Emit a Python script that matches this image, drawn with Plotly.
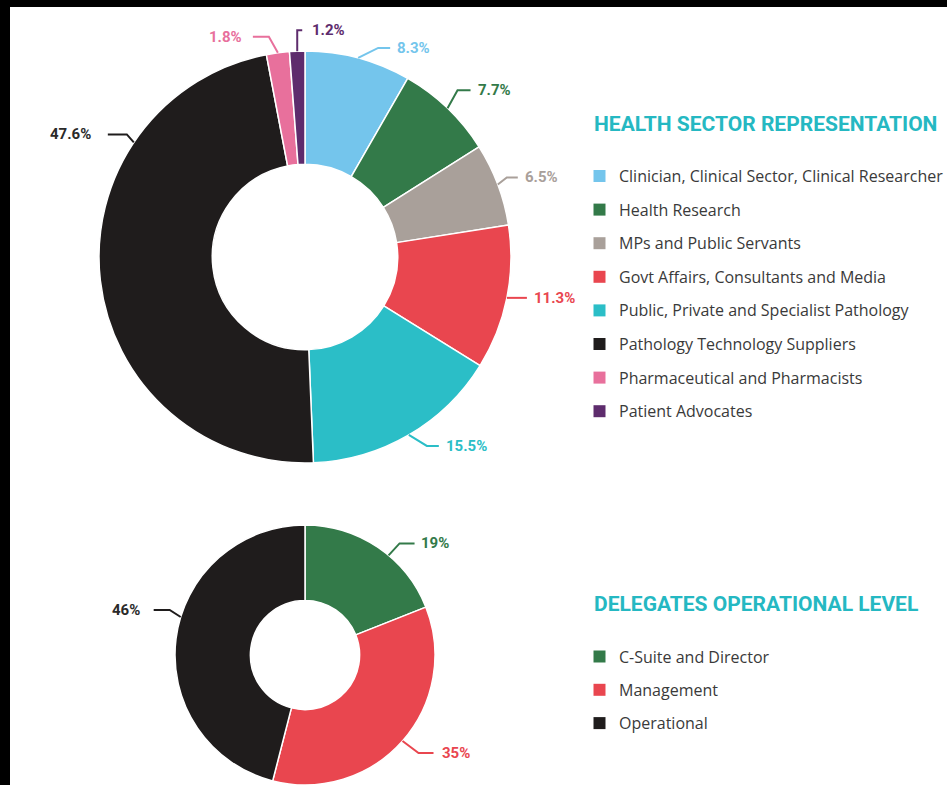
import math
import plotly.graph_objects as go

W, H = 947, 785

# ---------------- data ----------------
sector_labels = [
    "Clinician, Clinical Sector, Clinical Researcher",
    "Health Research",
    "MPs and Public Servants",
    "Govt Affairs, Consultants and Media",
    "Public, Private and Specialist Pathology",
    "Pathology Technology Suppliers",
    "Pharmaceutical and Pharmacists",
    "Patient Advocates",
]
sector_values = [8.3, 7.7, 6.5, 11.3, 15.5, 47.6, 1.8, 1.2]
sector_colors = ["#74C5EC", "#337A49", "#A9A09A", "#E9464F",
                 "#2BBEC7", "#1F1C1C", "#E8709C", "#5E2C6D"]

level_labels = ["C-Suite and Director", "Management", "Operational"]
level_values = [19, 35, 46]
level_colors = ["#337A49", "#E9464F", "#1F1C1C"]

title1 = "HEALTH SECTOR REPRESENTATION"
title2 = "DELEGATES OPERATIONAL LEVEL"

# ---------------- layout helpers ----------------
LABEL_FONT = "Roboto, Liberation Sans, sans-serif"
TEXT_FONT = "Open Sans, sans-serif"
TITLE_COLOR = "#25B8C2"


def X(px):
    return px / W


def Y(py):
    return 1 - py / H


def fmt(v):
    return f"{v:g}%"


# donut geometry (pixels)
D1 = dict(cx=305, cy=257, r=206, hole=0.45)
D2 = dict(cx=305, cy=655, r=130, hole=0.42)

# leader layout: (angle override deg or None, elbow dx, elbow dy, horizontal length, text gap)
lead1 = [
    (None, 20, -10, 12, 5),
    (None, 10, -18, 13, 5),
    (None, 9, -7, 11, 5),
    (None, 4, 0, 16, 5),
    (None, 18, 11, 12, 5),
    (303.8, -7, -8, -19, 15),
    (None, -9, -16, -16, 9),
    (None, 0, -21, 5, 8),
]
lead2 = [
    (40, 11, -12, 15, 4),
    (None, 16, 12, 15, 6),
    (287, -11, -7, -16, 12),
]

fig = go.Figure()
shapes = []
annotations = []

# white page with black border strips at top/left
shapes.append(dict(type="rect", xref="paper", yref="paper", x0=X(10), x1=1,
                   y0=0, y1=Y(7), fillcolor="white", line=dict(width=0),
                   layer="below"))


def add_donut(vals, labels, colors, geo, leads, name):
    cx, cy, r = geo["cx"], geo["cy"], geo["r"]
    fig.add_trace(go.Pie(
        values=vals, labels=labels, name=name,
        marker=dict(colors=colors, line=dict(color="white", width=1.5)),
        hole=geo["hole"], sort=False, direction="clockwise", rotation=0,
        textinfo="none", hoverinfo="label+percent", showlegend=False,
        domain=dict(x=[X(cx - r), X(cx + r)], y=[Y(cy + r), Y(cy - r)]),
    ))
    total = sum(vals)
    cum = 0
    for v, col, (ang, edx, edy, hl, gap) in zip(vals, colors, leads):
        mid = (cum + v / 2) / total * 360
        cum += v
        a = math.radians(ang if ang is not None else mid)
        ax = cx + r * math.sin(a)
        ay = cy - r * math.cos(a)
        ex, ey = ax + edx, ay + edy
        hx = ex + hl
        shapes.append(dict(
            type="path", xref="paper", yref="paper", layer="above",
            path=f"M {X(ax)} {Y(ay)} L {X(ex)} {Y(ey)} L {X(hx)} {Y(ey)}",
            line=dict(color=col, width=2)))
        right = hl > 0
        tcol = "#2a2a2a" if col == "#1F1C1C" else col
        annotations.append(dict(
            x=X(hx + (gap if right else -gap)), y=Y(ey), xref="paper", yref="paper",
            text=fmt(v), showarrow=False,
            xanchor="left" if right else "right", yanchor="middle",
            font=dict(family=LABEL_FONT, size=15, color=tcol, weight=700)))


add_donut(sector_values, sector_labels, sector_colors, D1, lead1, "Health sector")
add_donut(level_values, level_labels, level_colors, D2, lead2, "Operational level")


def add_legend(title, labels, colors, title_y, first_y, step):
    annotations.append(dict(
        x=X(592), y=Y(title_y), xref="paper", yref="paper", text=title,
        showarrow=False, xanchor="left", yanchor="middle",
        font=dict(family=LABEL_FONT, size=21, color=TITLE_COLOR, weight=700)))
    for i, (lab, col) in enumerate(zip(labels, colors)):
        yc = first_y + i * step
        shapes.append(dict(type="rect", xref="paper", yref="paper",
                           x0=X(593.5), x1=X(605.5), y0=Y(yc + 6), y1=Y(yc - 6),
                           fillcolor=col, line=dict(width=0)))
        annotations.append(dict(
            x=X(617), y=Y(yc), xref="paper", yref="paper", text=lab,
            showarrow=False, xanchor="left", yanchor="middle",
            font=dict(family=TEXT_FONT, size=16, color="#3a3a3a")))


add_legend(title1, sector_labels, sector_colors, 124, 176, 33.6)
add_legend(title2, level_labels, level_colors, 604, 656.5, 33.3)

fig.update_layout(
    width=W, height=H, margin=dict(l=0, r=0, t=0, b=0),
    paper_bgcolor="black", showlegend=False,
    shapes=shapes, annotations=annotations,
)

fig.write_html("out.html")
